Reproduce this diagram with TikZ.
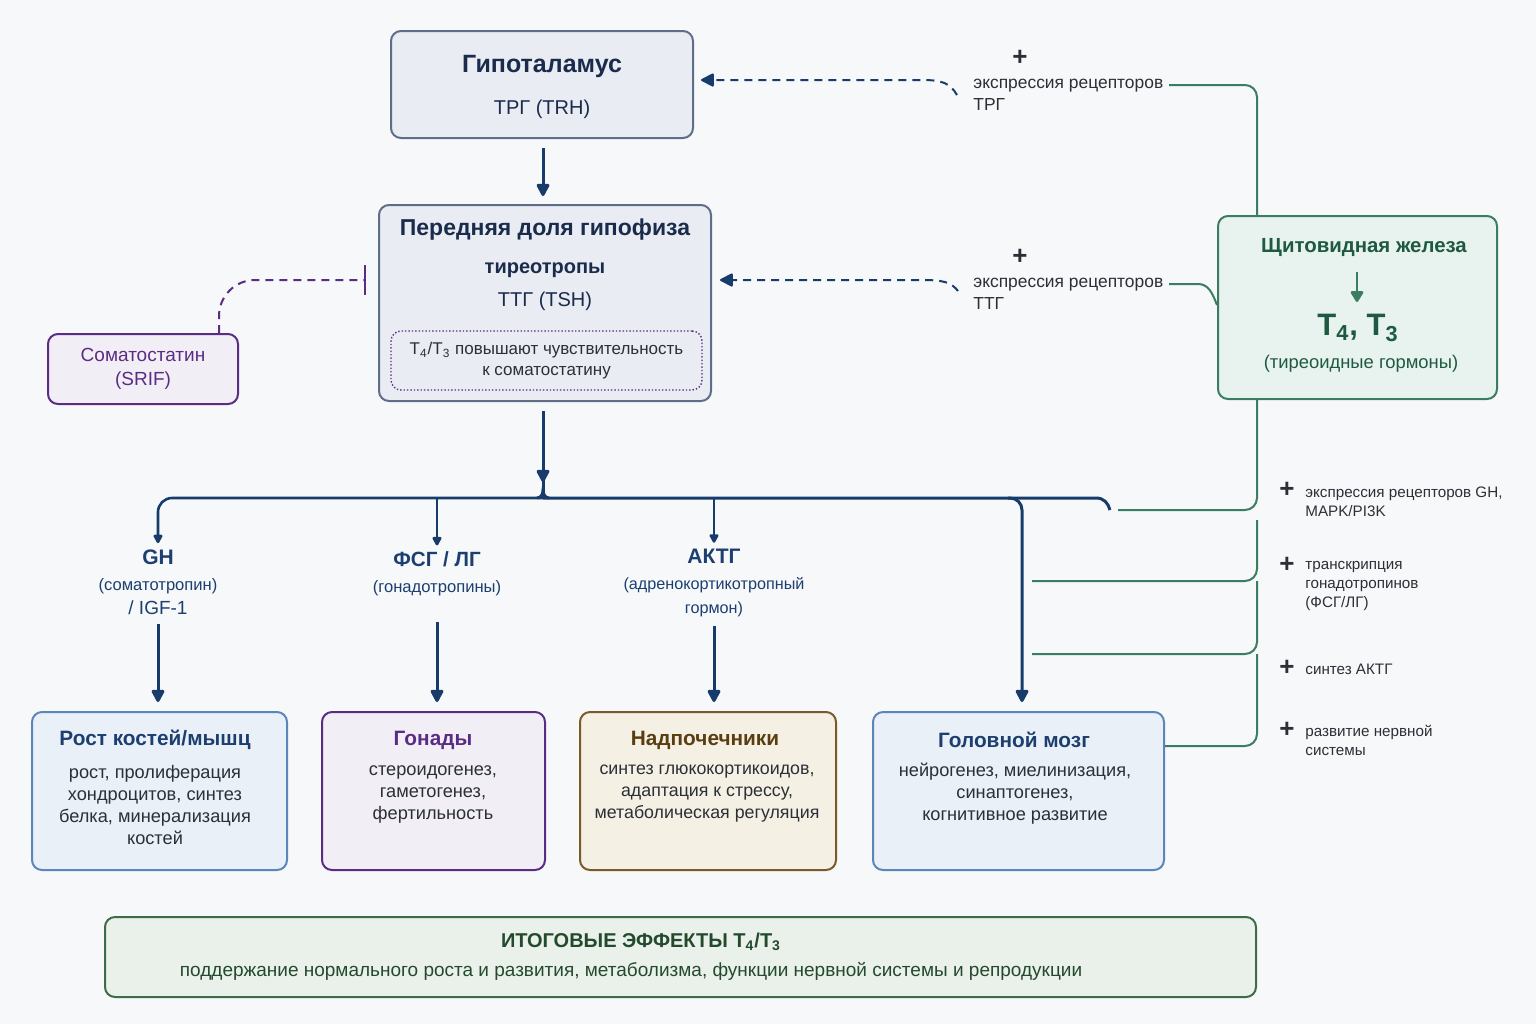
\documentclass[tikz,border=0pt]{standalone}
\usepackage{fontspec}
\setmainfont{Liberation Sans}
\usepackage{tikz}
\usetikzlibrary{positioning,calc,arrows.meta}

\definecolor{bgc}{HTML}{F7F8FA}
\definecolor{navy}{HTML}{1A2B4C}
\definecolor{navyl}{HTML}{173C6C}
\definecolor{grayf}{HTML}{E9ECF2}
\definecolor{grayd}{HTML}{5E6E88}
\definecolor{purp}{HTML}{5B2C83}
\definecolor{purpf}{HTML}{F2EEF6}
\definecolor{grn}{HTML}{3A7D60}
\definecolor{grnf}{HTML}{E8F2EE}
\definecolor{grnt}{HTML}{1E5A41}
\definecolor{blu}{HTML}{5A86BA}
\definecolor{bluf}{HTML}{EAF0F8}
\definecolor{blut}{HTML}{1C3F70}
\definecolor{brn}{HTML}{7A5A2A}
\definecolor{brnf}{HTML}{F5F0E4}
\definecolor{brnt}{HTML}{5A3E12}
\definecolor{fin}{HTML}{3E6B48}
\definecolor{finf}{HTML}{EAF1EA}
\definecolor{fint}{HTML}{244A2E}
\definecolor{txt}{HTML}{2B2F36}

\newcommand{\ttl}{\fontsize{12.5}{15}\selectfont\bfseries}
\newcommand{\mdt}{\fontsize{10}{12}\selectfont}
\newcommand{\smt}{\fontsize{8.7}{11}\selectfont}
\newcommand{\bxt}{\fontsize{10.4}{13}\selectfont\bfseries}
\newcommand{\bdt}{\fontsize{9.1}{11}\selectfont}
\newcommand{\rgt}{\fontsize{7.6}{9.5}\selectfont}

\begin{document}
\begin{tikzpicture}[x=0.5pt, y=-0.5pt, >={Stealth[round, inset=0pt, length=7pt, width=7pt]},
  box/.style={draw, rounded corners=5pt, line width=1pt},
  lbl/.style={inner sep=1pt, align=center},
  lft/.style={inner sep=1pt, align=left, anchor=west},
  main/.style={->, navyl, line width=1.5pt},
  br/.style={->, navyl, line width=1.3pt, >={Stealth[round, inset=0pt, length=5pt, width=5pt]}},
  fb/.style={->, navyl, line width=1pt, dashed, dash pattern=on 4pt off 3pt},
  tl/.style={grn, line width=1pt, rounded corners=6pt},
  plus/.style={inner sep=0pt, font=\fontsize{13}{13}\selectfont\bfseries, text=txt}]

\useasboundingbox (0,0) rectangle (1536,1024);
\fill[bgc] (0,0) rectangle (1536,1024);
\coordinate (gx) at (1257,0);

% hypothalamus
\node[box, fill=grayf, draw=grayd, minimum width=151pt, minimum height=53.5pt] (hypo) at (542,84.5) {};
\node[lbl, font=\ttl, text=navy] (hypot) at (542,66) {Гипоталамус};
\node[lbl, font=\mdt, text=navy] (trh) at (542,109) {ТРГ (TRH)};

% anterior pituitary
\node[box, fill=grayf, draw=grayd, minimum width=166pt, minimum height=98pt] (pit) at (545,303) {};
\node[lbl, font=\fontsize{11.5}{14}\selectfont\bfseries, text=navy] (pitt) at (545,230) {Передняя доля гипофиза};
\node[lbl, font=\fontsize{10}{12}\selectfont\bfseries, text=navy] (thyr) at (545,270) {тиреотропы};
\node[lbl, font=\mdt, text=navy] (tsh) at (545,301) {ТТГ (TSH)};
\node[draw=purp, densely dotted, rounded corners=5pt, line width=0.7pt, minimum width=155.5pt, minimum height=29.5pt,
  font=\fontsize{8.5}{10.5}\selectfont, text=txt, align=center] (sens) at (546.5,360.5)
  {T\textsubscript{4}/T\textsubscript{3} повышают чувствительность\\к соматостатину};

% somatostatin
\node[box, fill=purpf, draw=purp, minimum width=95pt, minimum height=35pt, font=\fontsize{9.5}{12}\selectfont,
  text=purp, align=center] (soma) at (143,369) {Соматостатин\\(SRIF)};
\draw[purp, line width=1pt, dashed, dash pattern=on 4pt off 3pt, -{Bar[width=15pt, line width=1.2pt]}, rounded corners=18pt, shorten >=6pt]
  (soma.north -| 219,0) |- (pit.west |- 0,280);

% thyroid
\node[box, fill=grnf, draw=grn, minimum width=139.5pt, minimum height=91.5pt] (thy) at (1357.5,307.5) {};
\node[lbl, font=\fontsize{10.2}{13}\selectfont\bfseries, text=grnt] (thyt) at (1364,248) {Щитовидная железа};
\node[lbl, font=\fontsize{15.5}{18}\selectfont\bfseries, text=grnt] (t43) at (1358,328)
  {T\textsubscript{4}, T\textsubscript{3}};
\node[lbl, font=\fontsize{9.2}{11}\selectfont, text=grnt] (thh) at (1361,364) {(тиреоидные гормоны)};
\draw[->, grn, line width=1.2pt, >={Stealth[round, inset=0pt, length=6pt, width=7pt]}] (1357,272) -- (1357,302);

% feedback on receptors
\node[plus] (p1) at (1020,58) {+};
\node[lft, font=\smt, text=txt] (trg) at (971,95) {экспрессия рецепторов\\ТРГ};
\node[plus] (p2) at (1020,257) {+};
\node[lft, font=\smt, text=txt] (ttg) at (971,294) {экспрессия рецепторов\\ТТГ};
\draw[fb, shorten >=3.5pt] (957,95) .. controls (950,83) and (942,80) .. (922,80) -- (hypo.east |- 0,80);
\draw[fb, shorten >=4pt] (958,291) .. controls (951,282) and (943,280) .. (922,280) -- (pit.east |- 0,280);
\draw[tl] (1169,85) -| (thy.north -| gx);
\draw[grn, line width=1pt] (1169,284) -- (1198,284) .. controls (1208,284) and (1212,292) .. (thy.west |- 0,305);

% hypothalamus to pituitary
\draw[main, shorten <=4.5pt, shorten >=4pt] (hypo.south -| 543,0) -- (pit.north -| 543,0);

% distribution bus
\coordinate (jn) at (543,498);
\coordinate (busend) at (1110,510);
\draw[main, shorten <=4.5pt] (pit.south -| 543,0) -- (543,482);
\draw[navyl, line width=1.5pt] (543,478) -- (jn);
\draw[navyl, line width=1.5pt] (537,498) .. controls (541,498) and (543,494) .. (543,490) .. controls (543,494) and (545,498) .. (549,498);

\node[lbl, text=blut, align=center] (gh) at (158,582)
  {{\fontsize{10.5}{12}\selectfont\bfseries GH}\\[1pt]{\fontsize{8.3}{11}\selectfont (соматотропин)}\\{\fontsize{9.5}{11}\selectfont / IGF-1}};
\node[lbl, text=blut, align=center] (fsh) at (437,574)
  {{\fontsize{10.3}{12}\selectfont\bfseries ФСГ / ЛГ}\\[1pt]{\fontsize{8.3}{11}\selectfont (гонадотропины)}};
\node[lbl, text=blut, align=center] (acth) at (714,583)
  {{\fontsize{10.5}{12}\selectfont\bfseries АКТГ}\\[1pt]{\fontsize{8.1}{11}\selectfont (адренокортикотропный}\\{\fontsize{8.1}{11}\selectfont гормон)}};

\draw[br, rounded corners=7pt, shorten >=2pt] (jn) -| (gh.north);
\draw[navyl, line width=1.5pt] (jn) -- (1096,498) .. controls (1104,498) and (1108,503) .. (busend);
\draw[br, shorten >=2pt] (fsh.north |- jn) -- (fsh.north);
\draw[br, shorten >=2pt] (acth.north |- jn) -- (acth.north);

% target organs
\node[box, fill=bluf, draw=blu, minimum width=127.5pt, minimum height=79pt] (bone) at (159.5,791) {};
\node[lbl, font=\bxt, text=blut] (bonet) at (155,740) {Рост костей/мышц};
\node[lbl, font=\bdt, text=txt] (boneb) at (155,805) {рост, пролиферация\\хондроцитов, синтез\\белка, минерализация\\костей};

\node[box, fill=purpf, draw=purp, minimum width=111.5pt, minimum height=79pt] (gon) at (433.5,791) {};
\node[lbl, font=\bxt, text=purp] (gont) at (433,740) {Гонады};
\node[lbl, font=\bdt, text=txt] (gonb) at (433,794) {стероидогенез,\\гаметогенез,\\фертильность};

\node[box, fill=brnf, draw=brn, minimum width=128pt, minimum height=79pt] (adr) at (708,791) {};
\node[lbl, font=\bxt, text=brnt] (adrt) at (705,740) {Надпочечники};
\node[lbl, font=\fontsize{8.9}{11}\selectfont, text=txt] (adrb) at (707,794) {синтез глюкокортикоидов,\\адаптация к стрессу,\\метаболическая регуляция};

\node[box, fill=bluf, draw=blu, minimum width=145.5pt, minimum height=79pt] (brain) at (1018.5,791) {};
\node[lbl, font=\bxt, text=blut] (braint) at (1014,740) {Головной мозг};
\node[lbl, font=\bdt, text=txt] (brainb) at (1015,794) {нейрогенез, миелинизация,\\синаптогенез,\\когнитивное развитие};

\draw[main, shorten <=3.5pt, shorten >=4.5pt] (gh.south) -- (gh.south |- bone.north);
\draw[main, shorten <=3.5pt, shorten >=4.5pt] (fsh.south |- 0,615) -- (fsh.south |- gon.north);
\draw[main, shorten <=3.5pt, shorten >=4.5pt] (acth.south) -- (acth.south |- adr.north);
\draw[main, rounded corners=6pt, shorten >=4.5pt] (1008,498) -- (1022,498) -- (brain.north -| 1022,0);

% thyroid actions on targets
\draw[tl] (thy.south -| gx) |- (1118,510);
\draw[tl] (1257,520) |- (1032,581);
\draw[tl] (1257,581) |- (1032,654);
\draw[tl] (1257,654) |- (brain.east |- 0,746);

\node[plus] (p3) at (1287,490) {+};
\node[lft, font=\rgt, text=txt] (rgh) at (1303,501.5) {экспрессия рецепторов GH,\\MAPK/PI3K};
\node[plus] (p4) at (1287,565) {+};
\node[lft, font=\rgt, text=txt] (rfsh) at (1303,585.5) {транскрипция\\гонадотропинов\\(ФСГ/ЛГ)};
\node[plus] (p5) at (1287,668) {+};
\node[lft, font=\rgt, text=txt] (racth) at (1303,669) {синтез АКТГ};
\node[plus] (p6) at (1287,730) {+};
\node[lft, font=\rgt, text=txt] (rbrain) at (1303,740.5) {развитие нервной\\системы};

% summary
\node[box, fill=finf, draw=fin, minimum width=575.5pt, minimum height=40pt] (sum) at (680.5,957) {};
\node[lbl, font=\fontsize{10}{12}\selectfont\bfseries, text=fint] (sumt) at (641,942) {ИТОГОВЫЕ ЭФФЕКТЫ T\textsubscript{4}/T\textsubscript{3}};
\node[lbl, font=\fontsize{9.5}{11}\selectfont, text=fint] (sumb) at (631,971)
  {поддержание нормального роста и развития, метаболизма, функции нервной системы и репродукции};

\end{tikzpicture}
\end{document}
